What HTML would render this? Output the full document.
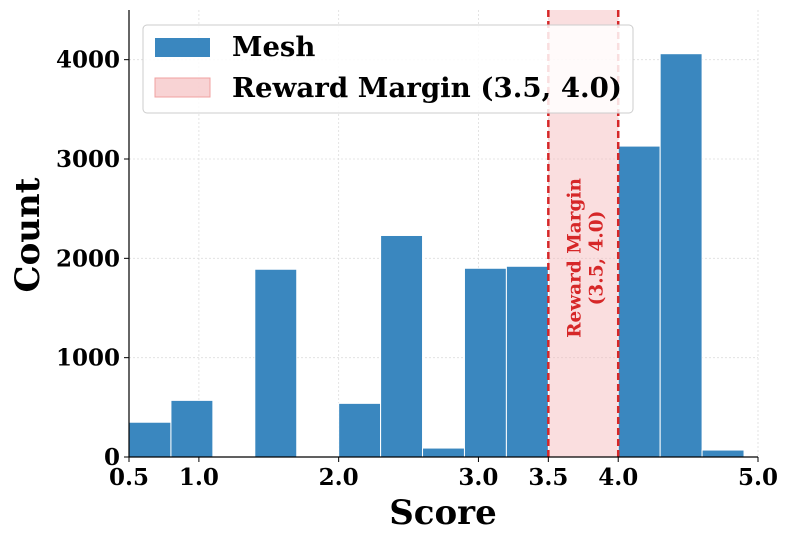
<!DOCTYPE html>
<html><head><meta charset="utf-8"><style>
body{margin:0;background:#fff}
svg text{font-family:"DejaVu Serif","Liberation Serif",serif;font-weight:bold}
</style></head><body>
<svg id="chart" width="790" height="540" xmlns="http://www.w3.org/2000/svg"></svg>
<script>
const binLefts=[0.5,0.8,1.4,2.0,2.3,2.6,2.9,3.2,4.0,4.3,4.6];
const binCounts=[350,570,1890,540,2230,90,1900,1920,3130,4060,70];
const binWidth=0.3;
const xTicks=[0.5,1.0,2.0,3.0,3.5,4.0,5.0];
const xTickLabels=["0.5","1.0","2.0","3.0","3.5","4.0","5.0"];
const yTicks=[0,1000,2000,3000,4000];
const marginRange=[3.5,4.0];
const X0=129,X1=758,Y0=457,Y1=10;
const xs=v=>X0+(v-0.5)/4.5*(X1-X0);
const ys=v=>Y0-v/4500*(Y0-Y1);
const svg=document.getElementById('chart');
const NS='http://www.w3.org/2000/svg';
function mk(t,a,p){const e=document.createElementNS(NS,t);for(const k in a)e.setAttribute(k,a[k]);(p||svg).appendChild(e);return e;}
xTicks.forEach(v=>{const l=mk('line',{x1:xs(v),x2:xs(v),y1:Y1,y2:Y0,stroke:'#ddd','stroke-dasharray':'2,2','stroke-width':0.8});

});
yTicks.forEach(v=>{const l=mk('line',{x1:X0,x2:X1,y1:ys(v),y2:ys(v),stroke:'#ddd','stroke-dasharray':'2,2','stroke-width':0.8});

});
const sp=mk('rect',{x:xs(marginRange[0]),y:Y1,width:xs(marginRange[1])-xs(marginRange[0]),height:Y0-Y1,fill:'#f4b6b8','fill-opacity':0.45});


binLefts.forEach((b,i)=>{const r=mk('rect',{x:xs(b),y:ys(binCounts[i]),width:xs(b+binWidth)-xs(b),height:Y0-ys(binCounts[i]),fill:'#3a87bf',stroke:'#fff','stroke-width':1});

});
marginRange.forEach(v=>{const l=mk('line',{x1:xs(v),x2:xs(v),y1:Y1,y2:Y0,stroke:'#d62728','stroke-width':2.5,'stroke-dasharray':'7,4'});

});
const mid=(xs(marginRange[0])+xs(marginRange[1]))/2;
const st=mk('text',{x:0,y:0,fill:'#d62728','font-size':18.5,'text-anchor':'middle',transform:`translate(${mid},258) rotate(-90)`});


mk('tspan',{x:0,dy:-3},st).textContent='Reward Margin';
mk('tspan',{x:0,dy:22},st).textContent='(3.5, 4.0)';
mk('line',{x1:X0,x2:X0,y1:Y1,y2:Y0,stroke:'#000','stroke-width':1.2});
mk('line',{x1:X0,x2:X1,y1:Y0,y2:Y0,stroke:'#000','stroke-width':1.2});
xTicks.forEach((v,i)=>{mk('line',{x1:xs(v),x2:xs(v),y1:Y0,y2:Y0+5,stroke:'#000'});
const t=mk('text',{x:xs(v),y:Y0+28,'font-size':23,'text-anchor':'middle'});t.textContent=xTickLabels[i];

});
yTicks.forEach(v=>{mk('line',{x1:X0-5,x2:X0,y1:ys(v),y2:ys(v),stroke:'#000'});
const t=mk('text',{x:X0-9,y:ys(v)+8,'font-size':23,'text-anchor':'end'});t.textContent=v;

});
const xt=mk('text',{x:443,y:524,'font-size':34,'text-anchor':'middle'});xt.textContent='Score';


const yt=mk('text',{x:0,y:0,'font-size':34,'text-anchor':'middle',transform:'translate(39,235) rotate(-90)'});yt.textContent='Count';


const lg=mk('g',{});


mk('rect',{x:143,y:25,width:490,height:88,rx:4,fill:'#fff','fill-opacity':0.85,stroke:'#ccc'},lg);
mk('rect',{x:155,y:38,width:55,height:19,fill:'#3a87bf'},lg);
mk('rect',{x:155,y:78,width:55,height:19,fill:'#f4b6b8','fill-opacity':0.6,stroke:'#f0a0a0'},lg);
const l1=mk('text',{x:232,y:56,'font-size':27.5},lg);l1.textContent='Mesh';


const l2=mk('text',{x:232,y:97,'font-size':27.5,textLength:390,lengthAdjust:'spacingAndGlyphs'},lg);l2.textContent='Reward Margin (3.5, 4.0)';


</script>
</body></html>
